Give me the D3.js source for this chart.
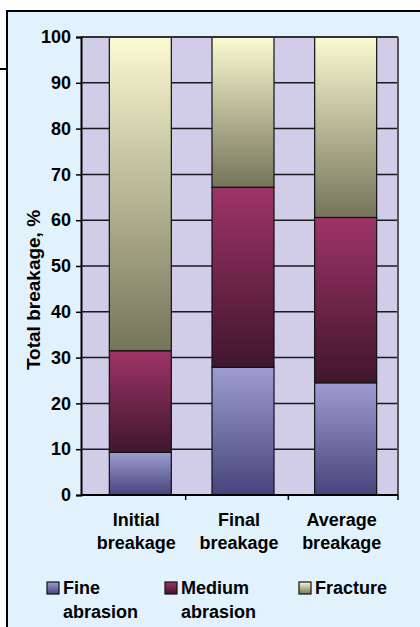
<!DOCTYPE html>
<meta charset="utf-8">
<script src="https://d3js.org/d3.v7.js"></script>
<style>
  body { margin: 0; background: #ffffff; }
  text { font-family: "Liberation Sans", Arial, sans-serif; font-weight: bold; fill: #000; }
</style>
<svg id="chart" width="420" height="627"></svg>
<script>

// data
const categories = [["Initial", "breakage"], ["Final", "breakage"], ["Average", "breakage"]];
const seriesNames = [["Fine", "abrasion"], ["Medium", "abrasion"], ["Fracture"]];
const fine = [9.3, 27.9, 24.5];
const medium = [22.2, 39.3, 36.1];
const fracture = [68.5, 32.8, 39.4];
const yTicks = [0, 10, 20, 30, 40, 50, 60, 70, 80, 90, 100];

const svg = d3.select("#chart");

// gradient colours, top -> bottom
const grads = [
  ["#9d9dd4", "#45457c"],
  ["#9e3467", "#40162d"],
  ["#fbfad2", "#74745a"]
];
const defs = svg.append("defs");
grads.forEach(function (g, i) {
  const lg = defs.append("linearGradient")
    .attr("id", "g" + i)
    .attr("x1", 0).attr("y1", 0).attr("x2", 0).attr("y2", 1);
  lg.append("stop").attr("offset", "0%").attr("stop-color", g[0]);
  lg.append("stop").attr("offset", "100%").attr("stop-color", g[1]);
});

// outer panel
svg.append("rect")
  .attr("x", 7).attr("y", 11).attr("width", 420).attr("height", 620)
  .attr("fill", "#e1f2fc").attr("stroke", "#000").attr("stroke-width", 2);
svg.append("line")
  .attr("x1", 0).attr("x2", 7).attr("y1", 69).attr("y2", 69)
  .attr("stroke", "#000").attr("stroke-width", 2);

const pLeft = 81, pRight = 398, pTop = 37, pBottom = 495;

const y = d3.scaleLinear().domain([0, 100]).range([pBottom, pTop]);
const x = d3.scaleBand().domain(d3.range(categories.length)).range([86, 394]).paddingInner(0);
const barW = 62;

// plot background
svg.append("rect")
  .attr("x", pLeft).attr("y", pTop).attr("width", pRight - pLeft).attr("height", pBottom - pTop)
  .attr("fill", "#d1cde8");

// gridlines
svg.append("g")
  .selectAll("line")
  .data(yTicks.slice(1, -1))
  .join("line")
    .attr("x1", pLeft).attr("x2", pRight)
    .attr("y1", d => y(d)).attr("y2", d => y(d))
    .attr("stroke", "#1a1a1a").attr("stroke-width", 1.5);

// stacked bars
const table = categories.map(function (c, i) {
  return { i: i, fine: fine[i], medium: medium[i], fracture: fracture[i] };
});
const stack = d3.stack().keys(["fine", "medium", "fracture"])(table);

svg.append("g")
  .selectAll("g")
  .data(stack)
  .join("g")
    .attr("fill", (d, k) => "url(#g" + k + ")")
  .selectAll("rect")
  .data(d => d)
  .join("rect")
    .attr("x", d => x(d.data.i) + (x.bandwidth() - barW) / 2 + 3)
    .attr("y", d => y(d[1]))
    .attr("width", barW)
    .attr("height", d => y(d[0]) - y(d[1]))
    .attr("stroke", "#111").attr("stroke-width", 1.2);

// frame
svg.append("line").attr("x1", pLeft).attr("x2", pRight).attr("y1", pTop).attr("y2", pTop)
  .attr("stroke", "#333").attr("stroke-width", 2);
svg.append("line").attr("x1", pRight).attr("x2", pRight).attr("y1", pTop).attr("y2", pBottom)
  .attr("stroke", "#555").attr("stroke-width", 2);

// y axis
const yAxis = svg.append("g")
  .attr("transform", "translate(" + pLeft + ",0)")
  .call(d3.axisLeft(y).tickValues(yTicks).tickSize(5).tickPadding(5));
yAxis.select(".domain").attr("stroke", "#000").attr("stroke-width", 2);
yAxis.selectAll(".tick line").attr("stroke", "#000").attr("stroke-width", 1.5);
yAxis.selectAll(".tick text").style("font-size", "18px").style("font-weight", "bold")
  .attr("font-family", null);

// x axis line and separator ticks
svg.append("line").attr("x1", pLeft).attr("x2", pRight).attr("y1", pBottom).attr("y2", pBottom)
  .attr("stroke", "#000").attr("stroke-width", 2);
svg.append("g")
  .selectAll("line")
  .data(d3.range(1, categories.length + 1))
  .join("line")
    .attr("x1", d => d < categories.length ? x(d) - 3 : pRight)
    .attr("x2", d => d < categories.length ? x(d) - 3 : pRight)
    .attr("y1", pBottom).attr("y2", pBottom + 5)
    .attr("stroke", "#000").attr("stroke-width", 1.5);

// category labels
const cat = svg.append("g")
  .selectAll("text")
  .data(categories)
  .join("text")
    .attr("text-anchor", "middle")
    .style("font-size", "18px")
    .attr("x", (d, i) => x(i) + x.bandwidth() / 2 - 1);
cat.selectAll("tspan")
  .data(d => d)
  .join("tspan")
    .attr("x", function () { return d3.select(this.parentNode).attr("x"); })
    .attr("y", (d, j) => 526 + j * 23)
    .text(d => d);

// y title
svg.append("text")
  .attr("transform", "translate(40,290) rotate(-90)")
  .attr("text-anchor", "middle")
  .style("font-size", "19px")
  .text("Total breakage, %");

// legend
const legendX = [47, 165, 299];
const leg = svg.append("g")
  .selectAll("g")
  .data(seriesNames)
  .join("g")
    .attr("transform", (d, i) => "translate(" + legendX[i] + ",582)");
leg.append("rect")
  .attr("width", 12).attr("height", 12)
  .attr("fill", (d, i) => "url(#g" + i + ")")
  .attr("stroke", "#111").attr("stroke-width", 1.2);
leg.append("text")
  .style("font-size", "18px")
  .selectAll("tspan")
  .data(d => d)
  .join("tspan")
    .attr("x", 16)
    .attr("y", (d, j) => 12 + j * 23.5)
    .text(d => d);

</script>
